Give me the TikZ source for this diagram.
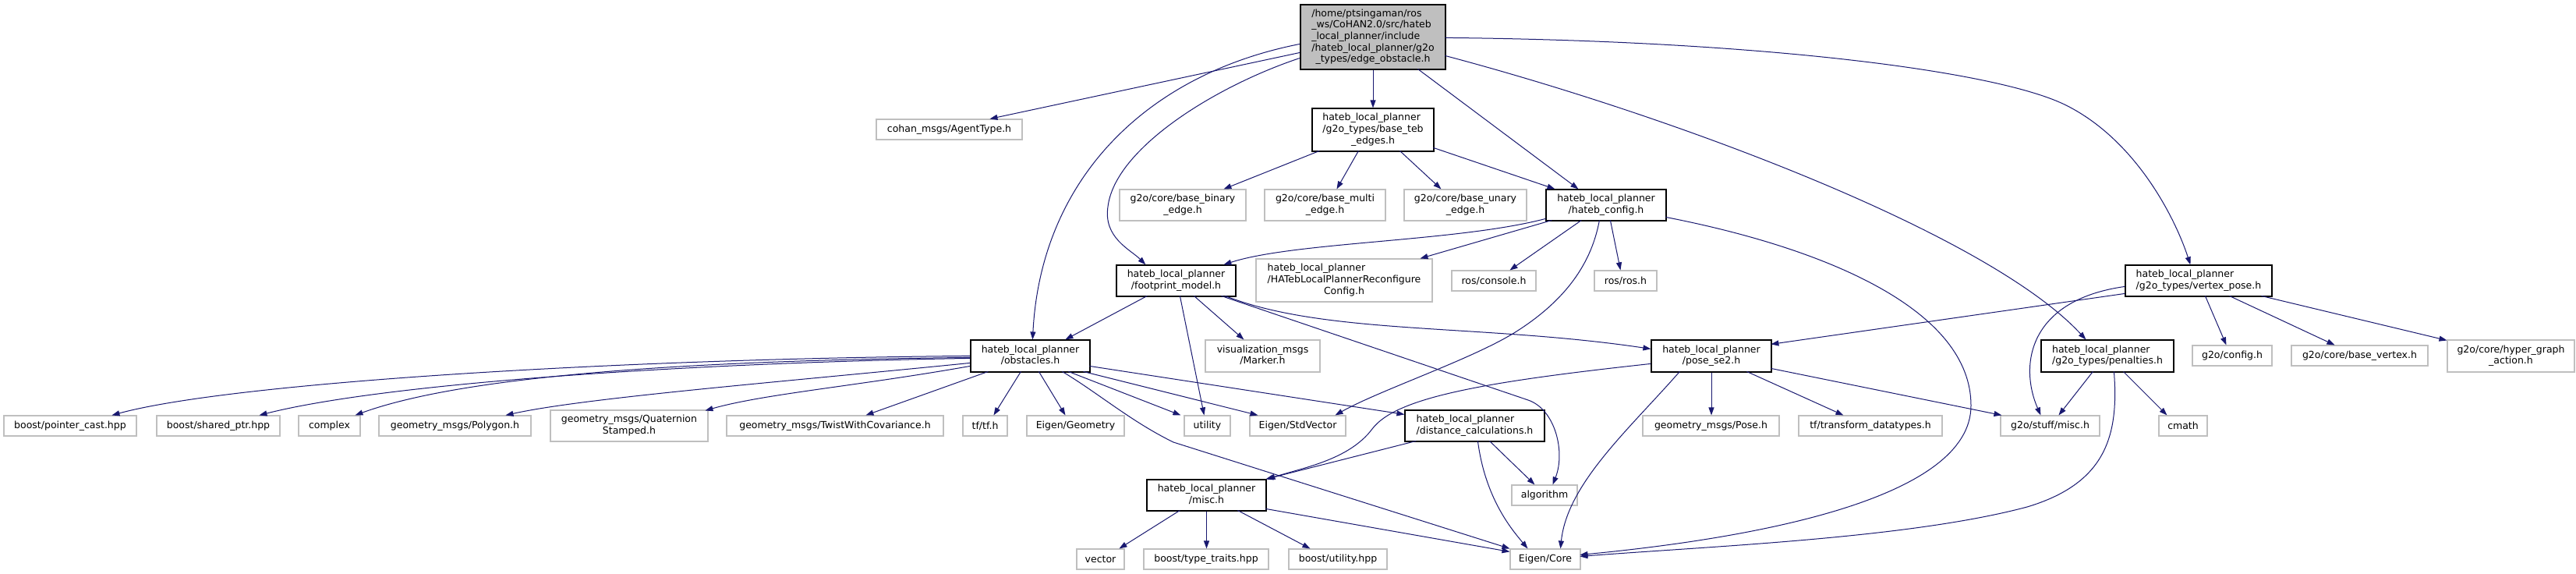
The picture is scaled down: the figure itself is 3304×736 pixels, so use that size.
\documentclass[tikz,border=0pt]{standalone}
\usepackage{fontspec}
\setmainfont{DejaVu Sans}
\usetikzlibrary{arrows.meta,calc}
\definecolor{edgeblue}{HTML}{191970}
\definecolor{rootgray}{HTML}{BFBFBF}
\definecolor{extgray}{HTML}{BFBFBF}
\newcommand\lbl[2]{\begin{tabular}{@{}l@{}}#1\\\multicolumn{1}{@{}c@{}}{#2}\end{tabular}}
\tikzset{
  nbase/.style={rectangle, inner sep=0pt, align=center, font=\fontsize{12.5}{14.6}\selectfont},
  docn/.style={nbase, draw=black, fill=white, line width=1.2pt},
  extn/.style={nbase, draw=extgray, fill=white, line width=1.1pt},
  rootn/.style={nbase, draw=black, fill=rootgray, line width=1.2pt},
  e/.style={draw=edgeblue, line width=1pt, -{Triangle[length=10pt,width=7pt]}, fill=none}
}
\newcommand\bx[6]{\node[#1, minimum width=#4pt, minimum height=#5pt] (#2) at (#3) {#6};}
\begin{document}
\begin{tikzpicture}[x=1pt,y=-1pt]
\fill[white] (0,0) rectangle (3304,736);
\useasboundingbox (0,0) rectangle (3304,736);
% nodes
\bx{rootn}{root}{1761,47.5}{186}{83}{\lbl{/home/ptsingaman/ros\\\_ws/CoHAN2.0/src/hateb\\\_local\_planner/include\\/hateb\_local\_planner/g2o}{\_types/edge\_obstacle.h}}
\bx{extn}{agent}{1217.5,166}{187}{26}{cohan\_msgs/AgentType.h}
\bx{docn}{bte}{1761,166.5}{156}{55}{\lbl{hateb\_local\_planner\\/g2o\_types/base\_teb}{\_edges.h}}
\bx{extn}{bbin}{1517,263}{162}{40}{\lbl{g2o/core/base\_binary}{\_edge.h}}
\bx{extn}{bmul}{1699.5,263}{155}{40}{\lbl{g2o/core/base\_multi}{\_edge.h}}
\bx{extn}{buna}{1879.5,263}{157}{40}{\lbl{g2o/core/base\_unary}{\_edge.h}}
\bx{docn}{hcfg}{2060,263}{154}{40}{\lbl{hateb\_local\_planner}{/hateb\_config.h}}
\bx{docn}{fpm}{1508.5,360}{153}{40}{\lbl{hateb\_local\_planner}{/footprint\_model.h}}
\bx{extn}{hrc}{1724,359.5}{226}{55}{\lbl{hateb\_local\_planner\\/HATebLocalPlannerReconfigure}{Config.h}}
\bx{extn}{rcon}{1916,360}{108}{26}{ros/console.h}
\bx{extn}{rros}{2085,360}{80}{26}{ros/ros.h}
\bx{docn}{vpose}{2820,360}{188}{40}{\lbl{hateb\_local\_planner}{/g2o\_types/vertex\_pose.h}}
\bx{docn}{obst}{1321.5,456.5}{153}{41}{\lbl{hateb\_local\_planner}{/obstacles.h}}
\bx{extn}{marker}{1619.5,456.5}{147}{41}{\lbl{visualization\_msgs}{/Marker.h}}
\bx{docn}{pse2}{2195,456.5}{154}{41}{\lbl{hateb\_local\_planner}{/pose\_se2.h}}
\bx{docn}{pen}{2703,456.5}{170}{41}{\lbl{hateb\_local\_planner}{/g2o\_types/penalties.h}}
\bx{extn}{g2ocfg}{2863,456}{102}{26}{g2o/config.h}
\bx{extn}{bvert}{3026.5,456}{175}{26}{g2o/core/base\_vertex.h}
\bx{extn}{hga}{3220.5,456.5}{163}{41}{\lbl{g2o/core/hyper\_graph}{\_action.h}}
\bx{extn}{pcast}{90,546}{170}{26}{boost/pointer\_cast.hpp}
\bx{extn}{sptr}{280,546}{158}{26}{boost/shared\_ptr.hpp}
\bx{extn}{cplx}{422.5,546}{79}{26}{complex}
\bx{extn}{poly}{583.5,546}{195}{26}{geometry\_msgs/Polygon.h}
\bx{extn}{quat}{807,546}{202}{40}{\lbl{geometry\_msgs/Quaternion}{Stamped.h}}
\bx{extn}{twist}{1071,546}{278}{26}{geometry\_msgs/TwistWithCovariance.h}
\bx{extn}{tftf}{1263.5,546}{57}{26}{tf/tf.h}
\bx{extn}{egeo}{1379.5,546}{125}{26}{Eigen/Geometry}
\bx{extn}{util}{1548.5,546}{59}{26}{utility}
\bx{extn}{estd}{1664.5,546}{123}{26}{Eigen/StdVector}
\bx{docn}{dcalc}{1891.5,546}{179}{40}{\lbl{hateb\_local\_planner}{/distance\_calculations.h}}
\bx{extn}{gpose}{2194.5,546}{175}{26}{geometry\_msgs/Pose.h}
\bx{extn}{tfdt}{2399,546}{184}{26}{tf/transform\_datatypes.h}
\bx{extn}{g2omisc}{2629.5,546}{127}{26}{g2o/stuff/misc.h}
\bx{extn}{cmath}{2800,546}{62}{26}{cmath}
\bx{docn}{misc}{1547.5,635}{153}{40}{\lbl{hateb\_local\_planner}{/misc.h}}
\bx{extn}{algo}{1981,635}{84}{26}{algorithm}
\bx{extn}{vector}{1411.5,717}{61}{26}{vector}
\bx{extn}{btt}{1547,717}{160}{26}{boost/type\_traits.hpp}
\bx{extn}{butil}{1716,717}{126}{26}{boost/utility.hpp}
\bx{extn}{ecore}{1982,717}{90}{26}{Eigen/Core}
% edges from root
\draw[e] ($(root.north west)+(0,62)$) -- ($(agent.north west)+(146,0)$);
\draw[e] ($(root.north west)+(0,51)$) .. controls (1470,95) and (1335,230) .. ($(obst.north west)+(80,0)$);
\draw[e] ($(root.north west)+(0,69)$) .. controls (1560,110) and (1430,190) .. (1421,265) .. controls (1415,305) and (1450,320) .. ($(fpm.north west)+(38,0)$);
\draw[e] (root.south) -- (bte.north);
\draw[e] ($(root.north west)+(151,83)$) -- ($(hcfg.north west)+(42,0)$);
\draw[e] ($(root.north west)+(186,66)$) .. controls (2150,150) and (2550,300) .. ($(pen.north west)+(58,0)$);
\draw[e] ($(root.north west)+(186,43)$) .. controls (2250,52) and (2560,90) .. (2650,135) .. controls (2740,180) and (2790,280) .. ($(vpose.north west)+(84,0)$);
% base_teb_edges
\draw[e] ($(bte.north west)+(10,55)$) -- ($(bbin.north west)+(134,0)$);
\draw[e] ($(bte.north west)+(60,55)$) -- ($(bmul.north west)+(93,0)$);
\draw[e] ($(bte.north west)+(113,55)$) -- ($(buna.north west)+(48,0)$);
\draw[e] ($(bte.north west)+(156,51)$) -- ($(hcfg.north west)+(12,0)$);
% hateb_config
\draw[e] ($(hcfg.north west)+(0,38)$) .. controls (1870,310) and (1660,310) .. ($(fpm.north west)+(138,0)$);
\draw[e] ($(hcfg.north west)+(8,40)$) -- ($(hrc.north west)+(211,0)$);
\draw[e] ($(hcfg.north west)+(46,40)$) -- ($(rcon.north west)+(75,0)$);
\draw[e] ($(hcfg.north west)+(83,40)$) -- ($(rros.north west)+(34,0)$);
\draw[e] ($(hcfg.north west)+(69,40)$) .. controls (2040,345) and (2000,390) .. (1945,425) .. controls (1890,460) and (1770,500) .. ($(estd.north west)+(110,0)$);
\draw[e] ($(hcfg.north west)+(154,36)$) .. controls (2350,320) and (2528,400) .. (2528,520) .. controls (2528,640) and (2250,690) .. ($(ecore.north west)+(90,8)$);
% footprint_model
\draw[e] ($(fpm.north west)+(40,40)$) -- ($(obst.north west)+(122,0)$);
\draw[e] ($(fpm.north west)+(82,40)$) -- ($(util.north west)+(26,0)$);
\draw[e] ($(fpm.north west)+(100,40)$) -- ($(marker.north west)+(50,0)$);
\draw[e] ($(fpm.north west)+(135,40)$) -- (1960,513) .. controls (1995,525) and (2008,580) .. ($(algo.north west)+(53,0)$);
\draw[e] ($(fpm.north west)+(140,40)$) .. controls (1700,430) and (1900,415) .. ($(pse2.north west)+(0,12)$);
% obstacles
\draw[e] ($(obst.north west)+(0,21)$) .. controls (800,460) and (300,490) .. ($(pcast.north west)+(139,0)$);
\draw[e] ($(obst.north west)+(0,24)$) .. controls (900,465) and (500,490) .. ($(sptr.north west)+(132,0)$);
\draw[e] ($(obst.north west)+(0,23)$) .. controls (900,462) and (600,480) .. ($(cplx.north west)+(73,0)$);
\draw[e] ($(obst.north west)+(0,30)$) .. controls (1000,490) and (750,510) .. ($(poly.north west)+(163,0)$);
\draw[e] ($(obst.north west)+(0,34)$) .. controls (1100,495) and (980,505) .. ($(quat.north west)+(199,1)$);
\draw[e] ($(obst.north west)+(23,41)$) -- ($(twist.north west)+(179,0)$);
\draw[e] ($(obst.north west)+(65,41)$) -- ($(tftf.north west)+(40,0)$);
\draw[e] ($(obst.north west)+(88,41)$) -- ($(egeo.north west)+(50,0)$);
\draw[e] ($(obst.north west)+(126,41)$) -- ($(util.north west)+(-4,0)$);
\draw[e] ($(obst.north west)+(145,41)$) -- ($(estd.north west)+(11,0)$);
\draw[e] ($(obst.north west)+(153,34)$) -- ($(dcalc.north west)+(0,6)$);
\draw[e] ($(obst.north west)+(118,41)$) .. controls (1410,505) and (1450,540) .. (1505,567) -- (ecore.north west);
% distance_calculations
\draw[e] ($(dcalc.north west)+(15,40)$) -- ($(misc.north west)+(153,0)$);
\draw[e] ($(dcalc.north west)+(109,40)$) -- ($(algo.north west)+(30,0)$);
\draw[e] ($(dcalc.north west)+(94,40)$) .. controls (1905,640) and (1940,680) .. ($(ecore.north west)+(23,0)$);
% pose_se2
\draw[e] ($(pse2.north west)+(0,31)$) .. controls (1900,490) and (1790,510) .. (1760,550) .. controls (1730,590) and (1670,600) .. ($(misc.north west)+(155,0)$);
\draw[e] ($(pse2.north west)+(37,41)$) .. controls (2090,550) and (2010,620) .. ($(ecore.north west)+(65,0)$);
\draw[e] (pse2.south) -- (pse2.south |- gpose.north);
\draw[e] ($(pse2.north west)+(123,41)$) -- ($(tfdt.north west)+(58,0)$);
\draw[e] ($(pse2.north west)+(154,37)$) -- ($(g2omisc.north west)+(2,0)$);
% vertex_pose
\draw[e] ($(vpose.north west)+(0,37)$) -- ($(pse2.north west)+(154,6)$);
\draw[e] ($(vpose.north west)+(0,28)$) .. controls (2600,385) and (2590,470) .. ($(g2omisc.north west)+(52,0)$);
\draw[e] ($(vpose.north west)+(103,40)$) -- ($(g2ocfg.north west)+(44,0)$);
\draw[e] ($(vpose.north west)+(134,40)$) -- ($(bvert.north west)+(56,0)$);
\draw[e] ($(vpose.north west)+(175,40)$) -- ($(hga.north west)+(0,1)$);
% penalties
\draw[e] ($(pen.north west)+(67,41)$) -- ($(g2omisc.north west)+(75,0)$);
\draw[e] ($(pen.north west)+(106,41)$) -- ($(cmath.north west)+(11,0)$);
\draw[e] ($(pen.north west)+(94,41)$) .. controls (2718,560) and (2700,620) .. (2600,650) .. controls (2450,690) and (2200,700) .. ($(ecore.north west)+(90,10)$);
% misc
\draw[e] ($(misc.north west)+(43,40)$) -- ($(vector.north west)+(55,0)$);
\draw[e] (misc.south) -- (misc.south |- btt.north);
\draw[e] ($(misc.north west)+(117,40)$) -- ($(butil.north west)+(28,0)$);
\draw[e] ($(misc.north west)+(153,38)$) -- ($(ecore.north west)+(0,4)$);
\end{tikzpicture}
\end{document}
